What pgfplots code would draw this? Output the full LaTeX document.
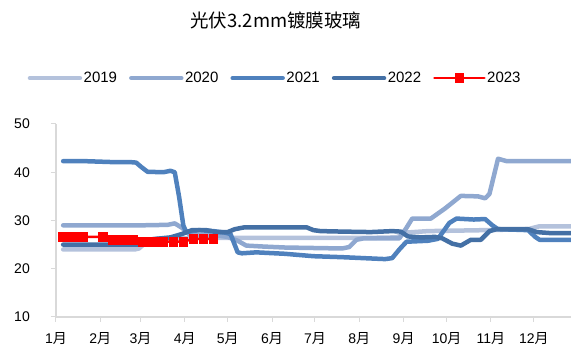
\documentclass[border=0pt]{standalone}
\usepackage{fontspec}
\setmainfont{Liberation Sans}
\newfontfamily\cjk{Noto Sans CJK SC}
\usepackage{pgfplots}
\pgfplotsset{compat=1.18}
\definecolor{cA}{HTML}{B4C2DC}
\definecolor{cB}{HTML}{8FA8D0}
\definecolor{cC}{HTML}{4F81BD}
\definecolor{cD}{HTML}{4470A5}
\definecolor{axisgray}{HTML}{D9D9D9}
\begin{document}
\begin{tikzpicture}
\useasboundingbox (-56pt,-28pt) rectangle (515pt,317pt);
\begin{axis}[
  at={(0,0)}, anchor=south west,
  scale only axis, width=515pt, height=193pt,
  xmin=0, xmax=360, ymin=10, ymax=50,
  axis x line=bottom, axis y line=left,
  axis line style={draw=axisgray, line width=1.3pt, -},
  xtick={0,31,59,90,120,151,181,212,243,273,304,334},
  xticklabels={1{\cjk 月},2{\cjk 月},3{\cjk 月},4{\cjk 月},5{\cjk 月},6{\cjk 月},7{\cjk 月},8{\cjk 月},9{\cjk 月},10{\cjk 月},11{\cjk 月},12{\cjk 月}},
  ytick={10,20,30,40,50},
  tick align=outside, major tick length=5pt,
  tick style={draw=axisgray, line width=1pt},
  /pgf/number format/assume math mode=true,
  yticklabel style={font=\fontsize{14}{14}\selectfont, anchor=east, inner sep=0pt, xshift=-21pt},
  xticklabel style={font=\fontsize{14}{14}\selectfont, anchor=north, inner sep=0pt, yshift=-10pt},
  title={{\cjk 光伏3.2mm镀膜玻璃}},
  title style={font=\fontsize{18.5}{18.5}\selectfont, at={(rel axis cs:0.427,1.503)}, anchor=center},
  legend style={at={(rel axis cs:0.425,1.238)}, anchor=center, draw=none, fill=none,
    font=\fontsize{15}{15}\selectfont, legend columns=5,
    /tikz/every even column/.append style={column sep=10.5pt},
    nodes={inner sep=1.5pt}},
  legend image code/.code={\draw[mark repeat=2,mark phase=2,#1] plot coordinates {(0pt,0pt) (25pt,0pt) (50pt,0pt)};},
  every axis plot/.append style={line join=round, line cap=round},
]
\addplot[cA, line width=4.5pt, no markers] coordinates {
(5,24.0) (20,24.0) (40,24.0) (55,24.0) (58,24.2) (63,25.5) (68,26.2) (80,26.3) (100,26.4) (130,26.4) (160,26.4) (190,26.4) (220,26.4) (238,26.5) (245,27.5) (260,27.8) (300,28.0) (330,28.2) (338,28.8) (360,28.8)
};
\addlegendentry{2019}
\addplot[cB, line width=4.5pt, no markers] coordinates {
(5,29.0) (30,29.0) (60,29.0) (78,29.1) (83,29.4) (88,28.5) (93,27.2) (100,27.0) (115,26.8) (120,26.6) (127,25.8) (133,24.8) (145,24.6) (160,24.4) (180,24.3) (200,24.2) (205,24.5) (210,26.0) (215,26.3) (240,26.3) (245,28.5) (249,30.4) (262,30.4) (272,32.5) (283,35.1) (295,35.0) (300,34.6) (303,35.5) (309,42.8) (315,42.3) (360,42.3)
};
\addlegendentry{2020}
\addplot[cC, line width=4.5pt, no markers] coordinates {
(5,42.3) (20,42.3) (40,42.1) (52,42.1) (56,42.0) (60,41.0) (64,40.1) (75,40.0) (80,40.3) (83,40.0) (86,35) (89,29) (91,27.6) (95,27.8) (100,28.0) (110,27.8) (118,27.5) (122,27.2) (127,23.4) (130,23.2) (140,23.4) (160,23.1) (180,22.6) (200,22.4) (215,22.2) (230,22.0) (235,22.2) (240,24.0) (245,25.6) (260,25.8) (267,26.2) (275,29.5) (280,30.4) (292,30.2) (300,30.3) (305,29.0) (309,28.2) (320,28.1) (330,28.0) (335,26.6) (338,26.0) (360,26.0)
};
\addlegendentry{2021}
\addplot[cD, line width=4.5pt, no markers] coordinates {
(5,25.0) (30,25.0) (57,25.0) (62,25.8) (70,26.2) (80,26.5) (88,27.2) (95,28.0) (105,28.0) (112,27.6) (120,27.6) (125,28.2) (132,28.6) (150,28.6) (175,28.6) (180,28.0) (185,27.8) (200,27.7) (220,27.6) (235,27.8) (241,27.7) (246,26.7) (255,26.5) (265,26.6) (270,26.3) (277,25.2) (283,24.8) (290,26.0) (297,26.0) (303,27.8) (308,28.2) (320,28.2) (330,28.2) (336,27.6) (345,27.4) (360,27.4)
};
\addlegendentry{2022}
\addplot[red, line width=2.5pt, mark=square*, mark size=4.3pt, mark options={solid, line width=0pt}] coordinates {
(5,26.6) (12,26.6) (19,26.6) (33,26.6) (40,25.9) (47,25.9) (54,25.9) (61,25.6) (68,25.6) (75,25.6) (82,25.6) (89,25.6) (96,26.2) (103,26.2) (110,26.2)
};
\addlegendentry{2023}
\end{axis}
\end{tikzpicture}
\end{document}
